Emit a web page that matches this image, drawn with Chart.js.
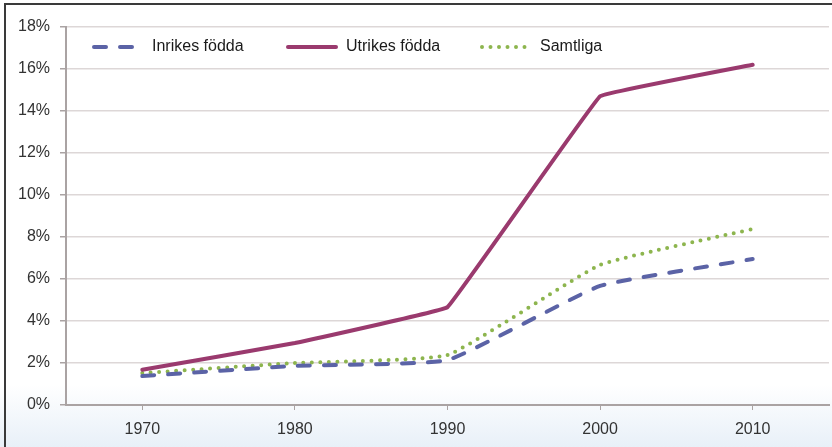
<!DOCTYPE html>
<html>
<head>
<meta charset="utf-8">
<script src="https://cdn.jsdelivr.net/npm/chart.js@4.4.1/dist/chart.umd.min.js"></script>
<style>
  html, body { margin: 0; padding: 0; background: #fff; }
  #wrap {
    position: relative;
    width: 832px;
    height: 447px;
    background: linear-gradient(to bottom, #ffffff 0%, #ffffff 86%, #e8f0f8 100%);
    overflow: hidden;
  }
  #frame {
    position: absolute;
    left: 4px;
    top: 3px;
    width: 900px;
    height: 500px;
    border-left: 2px solid #3a3a3a;
    border-top: 2px solid #3a3a3a;
  }
  #myChart { position: absolute; left: 0; top: 0; }
</style>
</head>
<body>
<div id="wrap">
  <div id="frame"></div>
  <canvas id="myChart" width="832" height="447"></canvas>
</div>
<script>
const years = ["1970", "1980", "1990", "2000", "2010"];
const inrikes = [1.38, 1.86, 2.14, 5.67, 6.95];
const utrikes = [1.68, 2.95, 4.66, 14.7, 16.2];
const samtliga = [1.52, 2.0, 2.38, 6.67, 8.38];
const yTicks = [0, 2, 4, 6, 8, 10, 12, 14, 16, 18];

const FONT = "'Liberation Sans', Arial, sans-serif";

// legend drawn inside the plot, top-left, as line samples
const lineLegend = {
  id: "lineLegend",
  afterDraw(chart) {
    const ctx = chart.ctx;
    const y = 47;
    const starts = [92, 286, 480];
    ctx.save();
    ctx.font = "16px " + FONT;
    ctx.textBaseline = "middle";
    chart.data.datasets.forEach((ds, i) => {
      const x = starts[i];
      ctx.strokeStyle = ds.borderColor;
      ctx.lineWidth = ds.borderWidth;
      ctx.lineCap = ds.borderCapStyle || "butt";
      ctx.setLineDash(ds.borderDash || []);
      ctx.beginPath();
      ctx.moveTo(x + 2, y);
      ctx.lineTo(x + 50, y);
      ctx.stroke();
      ctx.setLineDash([]);
      ctx.fillStyle = "#1a1a1a";
      ctx.fillText(ds.label, x + 60, y);
    });
    ctx.restore();
  },
};

let myCt = document.getElementById("myChart");
let myChart = new Chart(myCt, {
  type: "line",
  data: {
    labels: years,
    datasets: [
      {
        label: "Inrikes födda",
        data: inrikes,
        borderColor: "#5b63a6",
        borderWidth: 4,
        borderDash: [12, 14],
        borderCapStyle: "round",
        pointRadius: 0,
        tension: 0.12,
        fill: false,
      },
      {
        label: "Utrikes födda",
        data: utrikes,
        borderColor: "#9a3a6e",
        borderWidth: 4,
        borderCapStyle: "round",
        pointRadius: 0,
        tension: 0.04,
        fill: false,
      },
      {
        label: "Samtliga",
        data: samtliga,
        borderColor: "#8db54e",
        borderWidth: 4,
        borderDash: [0, 8.5],
        borderCapStyle: "round",
        pointRadius: 0,
        tension: 0.12,
        fill: false,
      },
    ],
  },
  options: {
    responsive: false,
    animation: false,
    layout: { padding: { top: 27, right: 3, left: 0, bottom: 0 } },
    plugins: {
      legend: { display: false },
      tooltip: { enabled: false },
    },
    scales: {
      x: {
        offset: true,
        afterFit: (s) => { s.height = 42; },
        border: { color: "#aaa3a3", width: 2 },
        grid: {
          offset: false,
          drawOnChartArea: false,
          drawTicks: true,
          tickLength: 5,
          color: "#aaa3a3",
        },
        ticks: {
          color: "#333",
          padding: 10,
          font: { family: FONT, size: 16 },
          maxRotation: 0,
        },
      },
      y: {
        min: 0,
        max: 18,
        afterFit: (s) => { s.width = 66; },
        afterBuildTicks: (s) => { s.ticks = yTicks.map((v) => ({ value: v })); },
        border: { color: "#aaa3a3", width: 2 },
        grid: {
          color: "#ddd7d7",
          lineWidth: 1.5,
          drawTicks: true,
          tickLength: 6,
          tickColor: "#aaa3a3",
        },
        ticks: {
          color: "#333",
          padding: 10,
          font: { family: FONT, size: 16 },
          callback: (v) => v + "%",
        },
      },
    },
  },
  plugins: [lineLegend],
});
</script>
</body>
</html>
